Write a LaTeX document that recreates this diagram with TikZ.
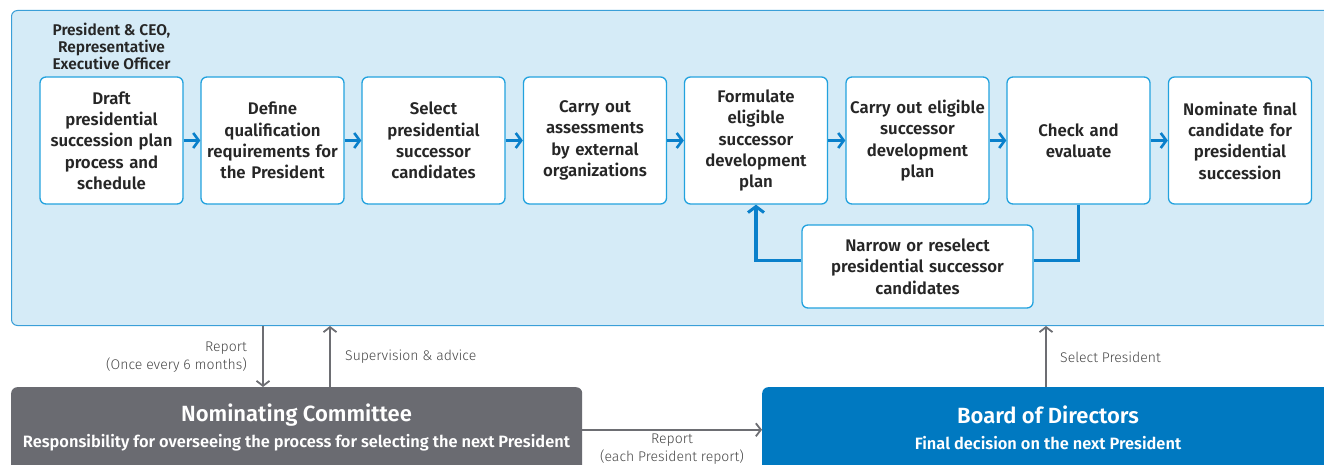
\documentclass[tikz,border=0pt]{standalone}
\usepackage{fontspec}
\setmainfont{Fira Sans}[BoldFont={Fira Sans SemiBold}]
\newfontfamily\lightfont{Fira Sans Light}
\usepackage{xcolor}
\usetikzlibrary{arrows.meta}
\definecolor{panelfill}{HTML}{D5EBF7}
\definecolor{panelline}{HTML}{3A9FD8}
\definecolor{boxline}{HTML}{22A2DE}
\definecolor{flowblue}{HTML}{0A80CB}
\definecolor{arrowgray}{HTML}{6D6E73}
\definecolor{nomgray}{HTML}{6A6B71}
\definecolor{boardblue}{HTML}{0079C1}
\definecolor{inktext}{HTML}{262626}
\begin{document}
\begin{tikzpicture}[x=1pt, y=-1pt,
        stepbox/.style={draw=boxline, line width=1.3pt, fill=white, rounded corners=6pt,
                        minimum width=143pt, minimum height=127pt, text width=141pt, inner xsep=0pt,
                        align=center, text=inktext, font=\fontsize{16.8}{21.3}\selectfont\bfseries},
        flow/.style={draw=flowblue, line width=2.6pt, -{Straight Barb[length=5.5pt, width=15pt]}},
        backline/.style={draw=flowblue, line width=3.5pt},
        grayarrow/.style={draw=arrowgray, line width=1.8pt, -{Straight Barb[length=5pt, width=13pt]}},
        note/.style={text=inktext!85, font=\fontsize{14}{18}\selectfont\lightfont, inner sep=0pt},
        lowbox/.style={rounded corners=6pt, minimum height=90pt, text=white, align=center}]
        \useasboundingbox (0,0) rectangle (1324,465);
        \clip (0,0) rectangle (1324,465);
        % Panel
        \node[draw=panelline, line width=1pt, fill=panelfill, rounded corners=6pt,
              minimum width=1325pt, minimum height=315pt, anchor=north west] (panel) at (11,10) {};
        \node[text=inktext, align=center, font=\fontsize{15.5}{17}\selectfont\bfseries] (ceo) at (111.5,46)
            {President \& CEO,\\Representative\\Executive Officer};
        % Steps
        \node[stepbox] (s1) at (111.5,140.5) {Draft\\presidential\\succession plan\\process and\\schedule};
        \node[stepbox] (s2) at (272.5,140.5) {Define\\qualification\\requirements for\\the President};
        \node[stepbox] (s3) at (433.5,140.5) {Select\\presidential\\successor\\candidates};
        \node[stepbox] (s4) at (595,140.5) {Carry out\\assessments\\by external\\organizations};
        \node[stepbox] (s5) at (756,140.5) {Formulate\\eligible\\successor\\development\\plan};
        \node[stepbox] (s6) at (917.5,140.5) {Carry out eligible\\successor\\development\\plan};
        \node[stepbox] (s7) at (1078.5,140.5) {Check and\\evaluate};
        \node[stepbox] (s8) at (1240,140.5) {Nominate final\\candidate for\\presidential\\succession};
        \node[stepbox, minimum width=231pt, minimum height=83pt, text width=229pt] (narrow) at (917.5,266.5)
            {Narrow or reselect\\presidential successor\\candidates};
        % Flow
        \foreach \a/\b in {s1/s2, s2/s3, s3/s4, s4/s5, s5/s6, s6/s7, s7/s8}
            \draw[flow] (\a) -- (\b);
        \draw[backline] (s7.south) |- ([yshift=6pt]narrow.east);
        \draw[backline, -{Straight Barb[length=6pt, width=16pt, line width=3pt]}]
            ([yshift=6pt]narrow.west) -| (s5.south);
        % Committees
        \node[lowbox, fill=nomgray, minimum width=571pt, anchor=north west] (nomcom) at (11,387) {};
        \node[text=white, font=\fontsize{22}{26}\selectfont\bfseries] (nomtitle) at (296.5,415) {Nominating Committee};
        \node[text=white, font=\fontsize{16.4}{19}\selectfont\bfseries] (nomsub) at (296.5,443)
            {Responsibility for overseeing the process for selecting the next President};
        \node[lowbox, fill=boardblue, minimum width=600pt, anchor=north west] (board) at (762,387) {};
        \node[text=white, font=\fontsize{22}{26}\selectfont\bfseries] (boardtitle) at (1048,415) {Board of Directors};
        \node[text=white, font=\fontsize{16.4}{19}\selectfont\bfseries] (boardsub) at (1048,443)
            {Final decision on the next President};
        % Reports
        \coordinate (repx) at (263,0);
        \coordinate (supx) at (330,0);
        \coordinate (selx) at (1046,0);
        \draw[grayarrow] (repx |- panel.south) -- (repx |- nomcom.north);
        \draw[grayarrow] (supx |- nomcom.north) -- (supx |- panel.south);
        \draw[grayarrow] (selx |- board.north) -- (selx |- panel.south);
        \draw[grayarrow] (nomcom.east |- nomtitle.south) -- (board.west |- nomtitle.south);
        \node[note, align=right, anchor=east] (replabel) at (247,357) {Report\\(Once every 6 months)};
        \node[note, anchor=west] (suplabel) at (345,357) {Supervision \& advice};
        \node[note, anchor=west] (sellabel) at (1060,357) {Select President};
        \node[note, align=center] (prelabel) at (672,449.5) {Report\\(each President report)};
\end{tikzpicture}
\end{document}
